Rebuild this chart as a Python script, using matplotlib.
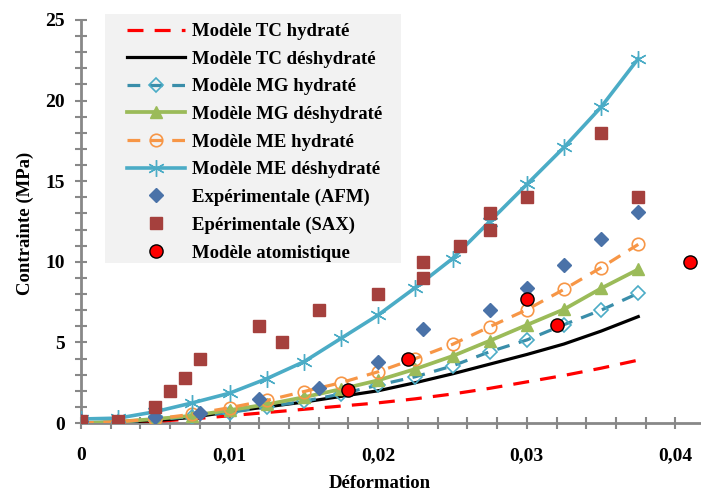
import matplotlib
matplotlib.use("Agg")
import matplotlib.pyplot as plt
from matplotlib.patches import Rectangle
from matplotlib.ticker import MultipleLocator, FixedLocator

plt.rcParams['font.family'] = ['Liberation Serif', 'DejaVu Serif']
plt.rcParams['font.weight'] = 'bold'

# ---- data ----
strain = [0, 0.0025, 0.005, 0.0075, 0.01, 0.0125, 0.015, 0.0175, 0.02,
          0.0225, 0.025, 0.0275, 0.03, 0.0325, 0.035, 0.0375]
tc_hyd = [0.0, 0.03, 0.1, 0.25, 0.45, 0.65, 0.85, 1.05, 1.25, 1.5, 1.8, 2.15,
          2.55, 2.95, 3.4, 3.9]
tc_dehyd = [0.0, 0.05, 0.15, 0.35, 0.7, 1.0, 1.3, 1.65, 2.0, 2.5, 3.05, 3.65,
            4.25, 4.9, 5.7, 6.6]
mg_hyd = [0.0, 0.05, 0.2, 0.4, 0.65, 1.0, 1.35, 1.8, 2.35, 2.87, 3.54, 4.42,
          5.15, 6.1, 7.0, 8.05]
mg_dehyd = [0.0, 0.08, 0.25, 0.45, 0.8, 1.15, 1.6, 2.1, 2.65, 3.35, 4.15, 5.1,
            6.08, 7.05, 8.35, 9.53]
me_hyd = [0.0, 0.08, 0.25, 0.55, 0.95, 1.4, 1.95, 2.5, 3.18, 4.0, 4.88, 5.97,
          7.03, 8.29, 9.64, 11.08]
me_dehyd = [0.25, 0.3, 0.7, 1.25, 1.85, 2.75, 3.8, 5.25, 6.7, 8.4, 10.2, 12.5,
            14.8, 17.1, 19.6, 22.6]

afm_x = [0, 0.005, 0.008, 0.012, 0.016, 0.02, 0.023, 0.0275, 0.03, 0.0325,
         0.035, 0.0375]
afm_y = [0.1, 0.35, 0.6, 1.5, 2.15, 3.8, 5.85, 7.0, 8.4, 9.8, 11.4, 13.1]

sax_x = [0, 0.0025, 0.005, 0.006, 0.007, 0.008, 0.012, 0.0135, 0.016, 0.02,
         0.023, 0.023, 0.0255, 0.0275, 0.0275, 0.03, 0.035, 0.0375]
sax_y = [0.1, 0.1, 1.0, 2.0, 2.8, 4.0, 6.0, 5.0, 7.0, 8.0, 9.0, 10.0, 11.0,
         12.0, 13.0, 14.0, 18.0, 14.0]

atom_x = [0.018, 0.022, 0.030, 0.032, 0.041]
atom_y = [2.05, 4.0, 7.7, 6.1, 10.0]

x_ticks = [0, 0.01, 0.02, 0.03, 0.04]
x_ticklabels = ['0', '0,01', '0,02', '0,03', '0,04']
y_ticks = [0, 5, 10, 15, 20, 25]

labels = ['Modèle TC hydraté', 'Modèle TC déshydraté', 'Modèle MG hydraté',
          'Modèle MG déshydraté', 'Modèle ME hydraté', 'Modèle ME déshydraté',
          'Expérimentale (AFM)', 'Epérimentale (SAX)', 'Modèle atomistique']

# ---- figure ----
W, H = 701, 491
fig = plt.figure(figsize=(W / 100, H / 100), dpi=100)
ax = fig.add_axes([81 / W, 1 - 423 / H, (W - 81) / W, (423 - 20) / H])

lw = 2.3
star = (6, 2, 0)
h1, = ax.plot(strain, tc_hyd, color='#ff0000', lw=lw, dashes=(5, 3.5), zorder=3)
h2, = ax.plot(strain, tc_dehyd, color='#000000', lw=lw, zorder=3)
h3, = ax.plot(strain, mg_hyd, color='#3a8eaa', lw=lw, dashes=(4, 3),
              marker='D', ms=7, mfc='none', mec='#4bacc6', mew=1.2, zorder=3)
h4, = ax.plot(strain, mg_dehyd, color='#9bbb59', lw=lw + 0.4,
              marker='^', ms=9, mfc='#9bbb59', mec='#9bbb59', zorder=3)
h5, = ax.plot(strain, me_hyd, color='#f79646', lw=lw, dashes=(4, 3),
              marker='o', ms=9, mfc='none', mec='#f79646', mew=1.2, zorder=3)
h6, = ax.plot(strain, me_dehyd, color='#4bacc6', lw=lw + 0.3,
              marker=star, ms=12, mec='#4bacc6', mew=1.0, zorder=3)
h7, = ax.plot(afm_x, afm_y, ls='none', marker='D', ms=7.5, color='#4a72a8',
              mec='#4a72a8', zorder=4)
h8, = ax.plot(sax_x, sax_y, ls='none', marker='s', ms=8.5, color='#a5403d',
              mec='#a5403d', zorder=4)
h9, = ax.plot(atom_x, atom_y, ls='none', marker='o', ms=9.5, mfc='#ff0000',
              mec='#000000', mew=1.0, zorder=5)

ax.set_xlim(0, (W - 81) / 14860)
ax.set_ylim(0, 25)
ax.xaxis.set_major_locator(FixedLocator(x_ticks))
ax.set_xticklabels(x_ticklabels)
ax.xaxis.set_minor_locator(MultipleLocator(0.002))
ax.yaxis.set_major_locator(FixedLocator(y_ticks))
ax.yaxis.set_minor_locator(MultipleLocator(1))

gray = '#888888'
for s in ['top', 'right']:
    ax.spines[s].set_visible(False)
for s in ['left', 'bottom']:
    ax.spines[s].set_color(gray)
    ax.spines[s].set_linewidth(2)
ax.tick_params(which='both', direction='inout', color=gray, width=1.5, length=9)
ax.tick_params(axis='x', which='major', labelsize=14, pad=13)
ax.tick_params(axis='y', which='major', labelsize=14, pad=7)
for t in ax.get_xticklabels() + ax.get_yticklabels():
    t.set_fontweight('bold')

fig.text(380 / W, 1 - 483 / H, 'Déformation', ha='center', va='center',
         fontsize=13.5, fontweight='bold')
fig.text(25 / W, 1 - 223 / H, 'Contrainte (MPa)', ha='center', va='center',
         rotation=90, fontsize=13.5, fontweight='bold')

# legend background
fig.patches.append(Rectangle((105 / W, 1 - 263 / H), (401 - 105) / W,
                             (263 - 14) / H, transform=fig.transFigure,
                             facecolor='#f2f2f2', edgecolor='none', zorder=0))
leg = fig.legend([h1, h2, h3, h4, h5, h6, h7, h8, h9], labels,
                 loc='upper left', bbox_to_anchor=(127 / W, 1 - 23 / H),
                 frameon=False, borderpad=0, borderaxespad=0, numpoints=1,
                 handlelength=3.1, handletextpad=0.37, labelspacing=0.56,
                 prop={'family': 'Liberation Serif', 'weight': 'bold', 'size': 13.5})
ax.patch.set_alpha(0)
fig.savefig('out.png', dpi=100)
